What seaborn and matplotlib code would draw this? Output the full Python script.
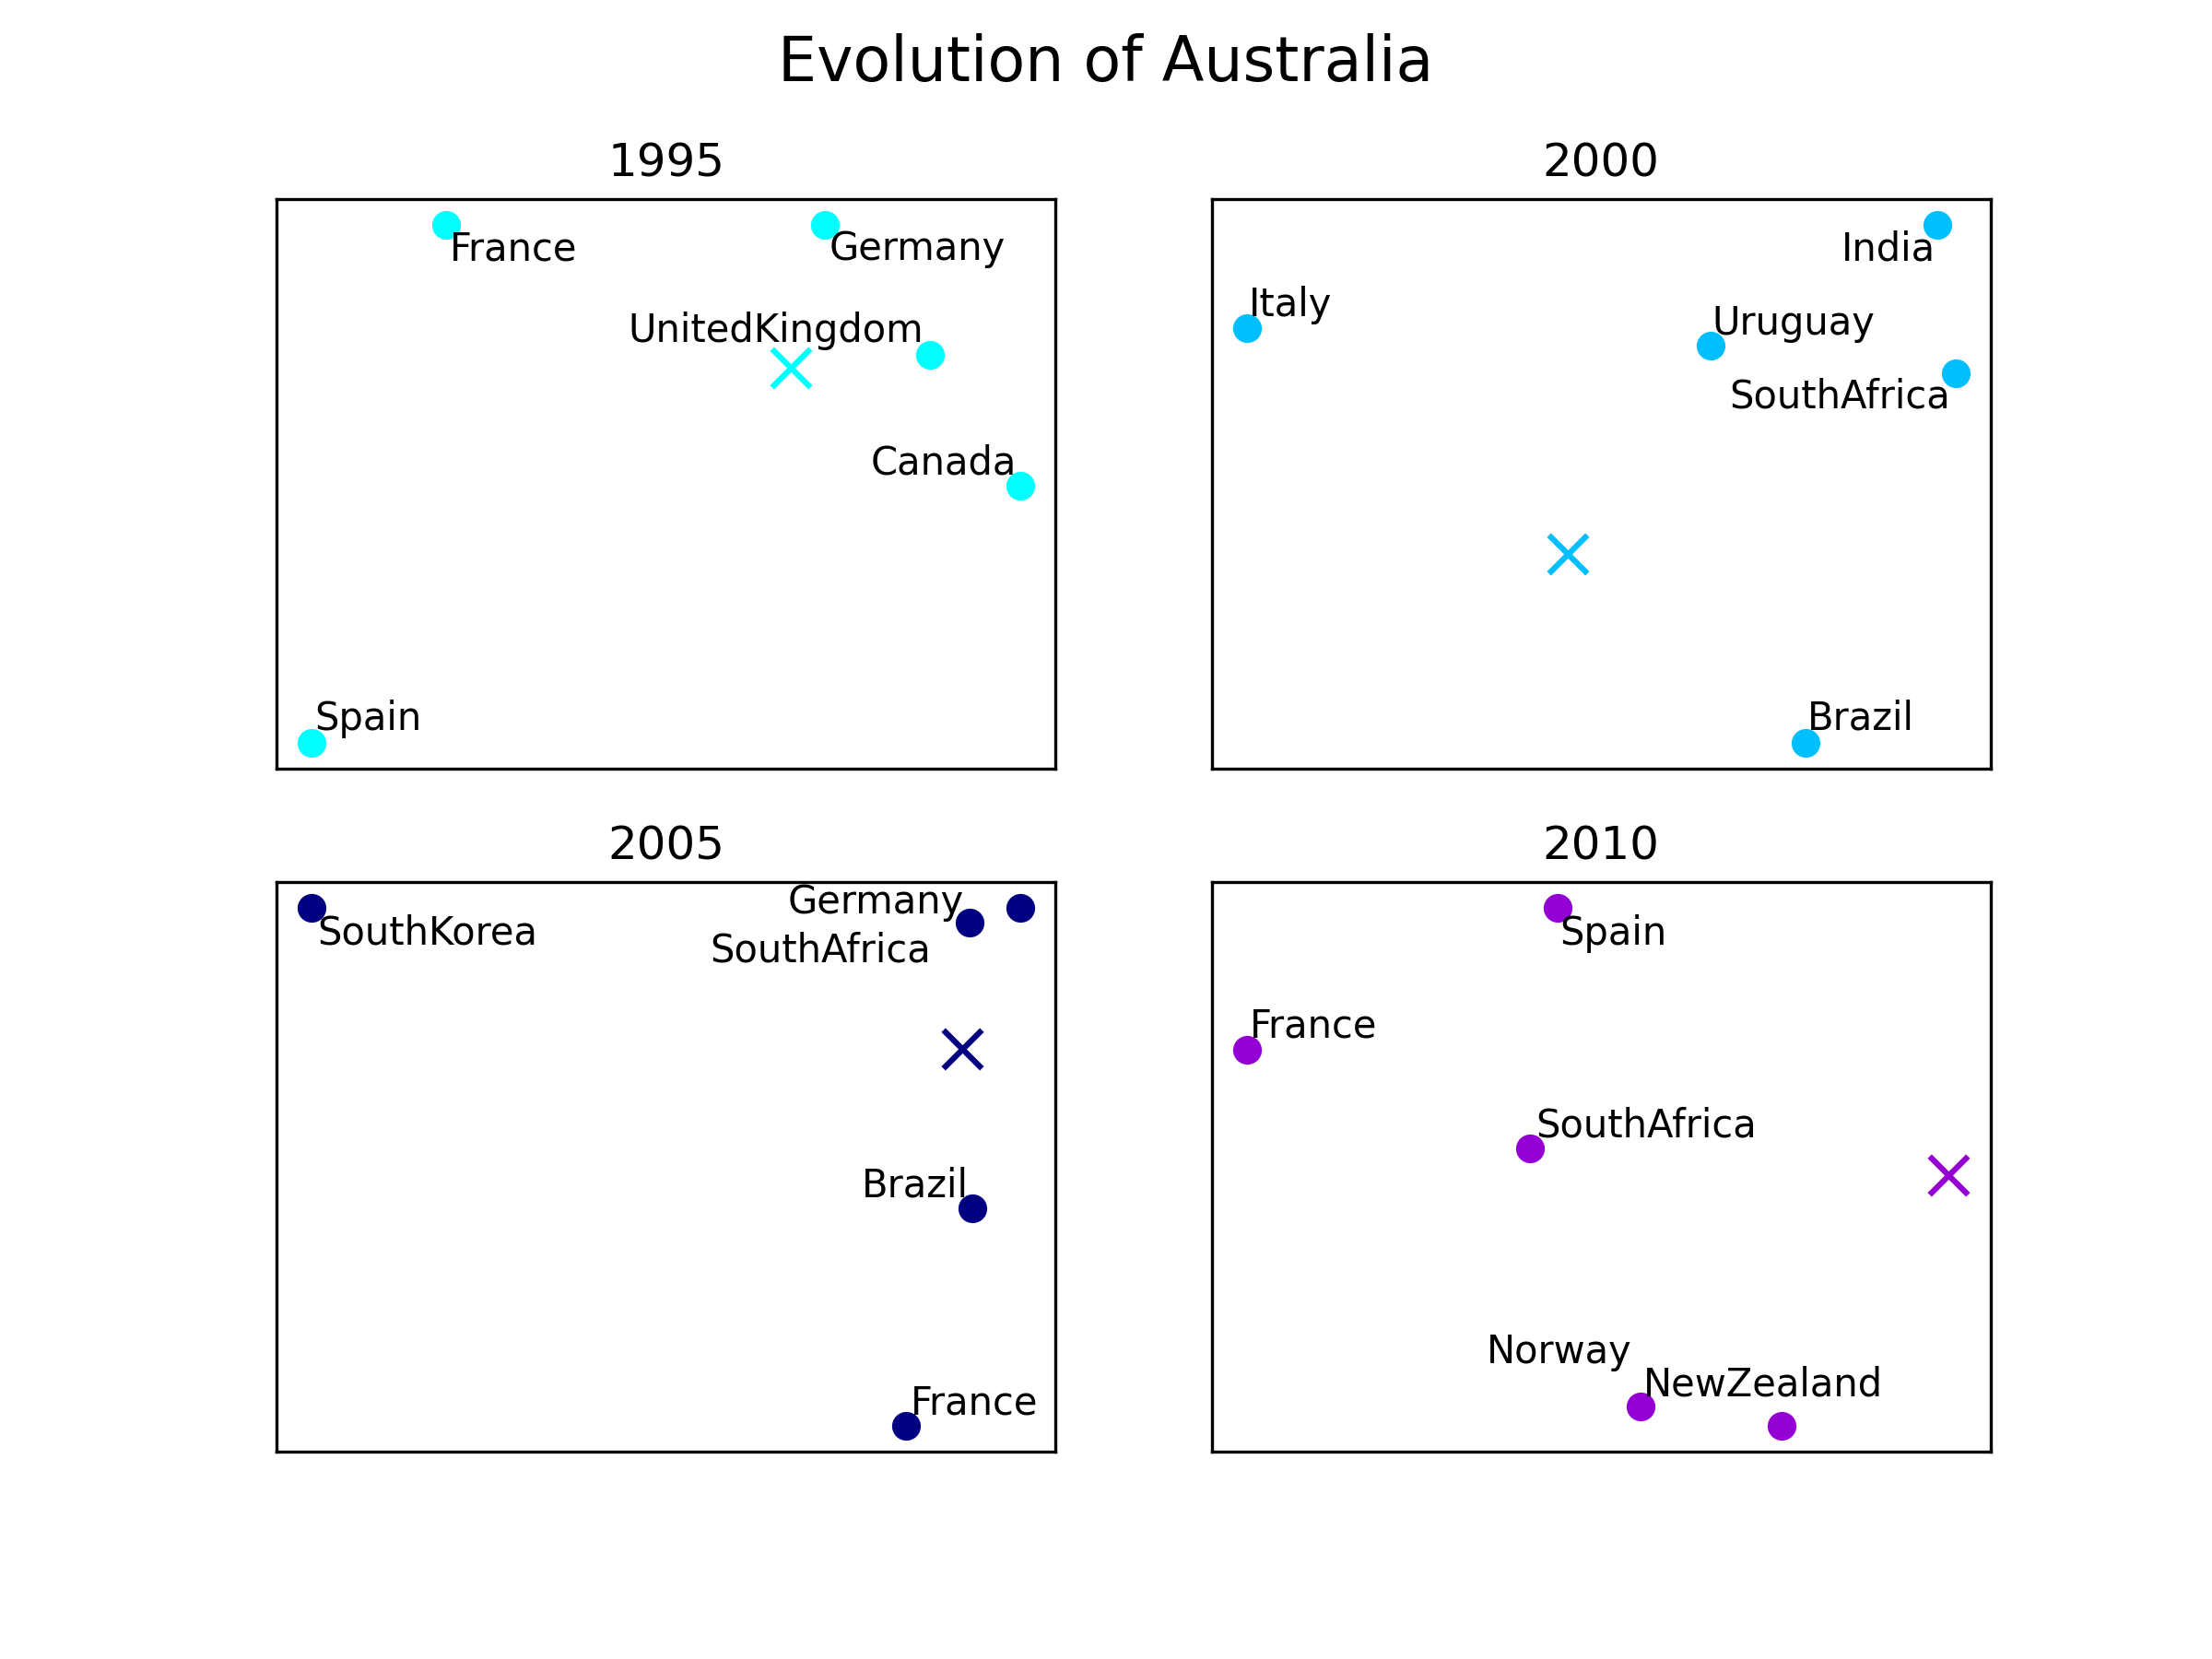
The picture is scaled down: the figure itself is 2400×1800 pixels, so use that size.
import matplotlib
matplotlib.use("Agg")
import matplotlib.pyplot as plt
import seaborn as sns
import pandas as pd

title = "Evolution of Australia"
years = ["1995", "2000", "2005", "2010"]
colors = ["cyan", "deepskyblue", "navy", "darkviolet"]

names_1995 = ["France", "Germany", "UnitedKingdom", "Canada", "Spain"]
x_1995 = [18.9, 72.4, 87.3, 100, 0]
y_1995 = [100, 100, 74.9, 49.7, 0]
self_1995 = (67.6, 72.5)

names_2000 = ["India", "Italy", "Uruguay", "SouthAfrica", "Brazil"]
x_2000 = [97.4, 0, 65.4, 100, 78.9]
y_2000 = [100, 80.1, 76.6, 71.4, 0]
self_2000 = (45.3, 36.5)

names_2005 = ["SouthKorea", "Germany", "SouthAfrica", "Brazil", "France"]
x_2005 = [0, 100, 92.8, 93.2, 83.9]
y_2005 = [100, 100, 97.3, 42.0, 0]
self_2005 = (91.8, 72.8)

names_2010 = ["Spain", "France", "SouthAfrica", "Norway", "NewZealand"]
x_2010 = [43.8, 0, 40, 55.5, 75.5]
y_2010 = [100, 72.6, 53.5, 3.8, 0]
self_2010 = (99.0, 48.5)

# label offsets relative to each marker: left edge, vertical centre
PT = 72 / 196
off_1995 = [(3, -17), (3, -17), (-214, 17), (-106, 16), (2, 17)]
off_2000 = [(-68, -17), (1, 16), (1, 16), (-160, -17), (1, 17)]
off_2005 = [(4, -18), (-165, 4), (-184, -20), (-78, 16), (3, 16)]
off_2010 = [(2, -18), (2, 17), (4, 16), (-109, 38), (-98, 29)]

panels = [
    (names_1995, x_1995, y_1995, self_1995, off_1995),
    (names_2000, x_2000, y_2000, self_2000, off_2000),
    (names_2005, x_2005, y_2005, self_2005, off_2005),
    (names_2010, x_2010, y_2010, self_2010, off_2010),
]

fig, axes = plt.subplots(2, 2, figsize=(8, 6), dpi=300)
fig.subplots_adjust(left=0.125, right=0.9, top=0.88, bottom=0.125, hspace=0.2, wspace=0.2)
for ax, year, color, (names, xs, ys, me, offs) in zip(axes.flat, years, colors, panels):
    df = pd.DataFrame({"x": xs, "y": ys, "name": names})
    sns.scatterplot(data=df, x="x", y="y", color=color, s=56, linewidth=0, ax=ax, zorder=2)
    ax.scatter([me[0]], [me[1]], marker="x", color=color, s=100, linewidths=1.5, zorder=2)
    for name, px, py, (dx, dy) in zip(names, xs, ys, offs):
        ax.annotate(name, (px, py), xytext=(dx * PT, dy * PT), textcoords="offset points",
                    ha="left", va="center", fontsize=10)
    ax.set_xlim(-5, 105)
    ax.set_ylim(-5, 105)
    ax.set_xticks([])
    ax.set_yticks([])
    ax.set_xlabel("")
    ax.set_ylabel("")
    ax.set_title(year, fontsize=12)
fig.suptitle(title, fontsize=16)
fig.savefig("out.png", dpi=300)
